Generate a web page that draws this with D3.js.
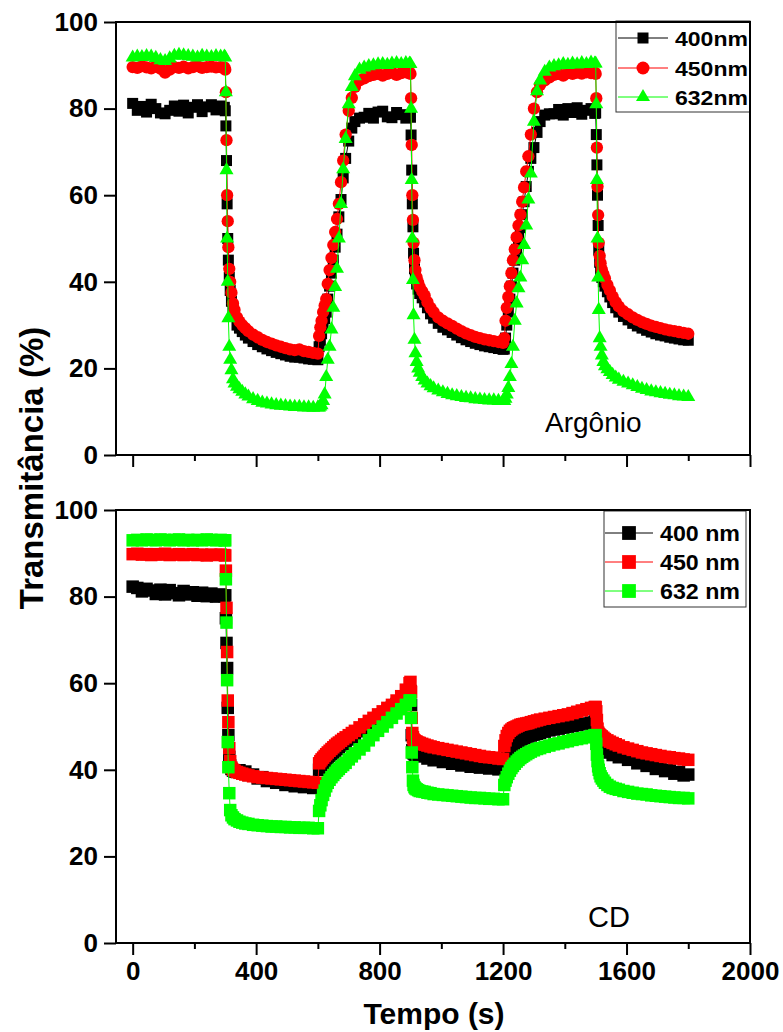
<!DOCTYPE html>
<html><head><meta charset="utf-8">
<script src="https://cdn.jsdelivr.net/npm/d3@7"></script>
<style>body{margin:0;background:#fff}</style>
</head><body><svg id="c" width="783" height="1032"></svg>
<script>
// time (s), shared by every series
const time = [
 0,15,30,45,60,75,90,105,120,135,150,165,180,195,210,225,240,255,270,285,297,
 300,302,304,306,308,310,313,316,320,325,330,338,
 346,355,365,375,390,405,420,435,450,465,480,495,510,525,540,555,570,585,600,
 604,608,612,617,622,627,632,638,644,650,656,662,668,675,682,690,700,710,720,735,750,
 765,780,795,810,825,840,855,870,885,897,
 900,902,904,906,908,910,913,916,920,925,930,938,
 946,955,965,975,990,1005,1020,1035,1050,1065,1080,1095,1110,1125,1140,1155,1170,1185,1200,
 1204,1208,1212,1217,1222,1227,1232,1238,1244,1250,1256,1262,1268,1275,1282,1290,1300,1310,1320,1335,1350,
 1365,1380,1395,1410,1425,1440,1455,1470,1485,1497,
 1500,1502,1504,1506,1508,1510,1513,1516,1520,1525,1530,1538,
 1546,1555,1565,1575,1590,1605,1620,1635,1650,1665,1680,1695,1710,1725,1740,1755,1770,1785,1800
];

// Top panel (Argônio)
const top400 = [
 81.2,79.6,80.5,79.2,81.0,80.0,79.0,78.8,79.6,80.6,79.4,80.8,79.0,80.3,80.9,79.3,80.4,80.9,79.7,80.6,80.3,
 79.5,76,68,58,50,45,41,38,35.5,33.5,32,30,
 29.3,28.5,27.7,27,26.2,25.5,25,24.5,24.1,23.7,23.4,23.1,22.8,22.6,22.6,22.4,22.2,22.1,22.0,
 25,26.5,28,30,31.5,33,36,39,42,45,48,51,55,59,64,68.5,72.5,75.5,77,77.8,78,
 78.9,77.8,79.2,79.4,78.1,77.9,79.1,78.6,77.8,78.4,
 78,73.9,65.8,58,52.7,46.6,43,41,39.5,38.3,37.3,36.3,
 35.3,34,32.6,31.6,30.4,29.5,28.9,28.3,27.7,27.1,26.6,26.2,25.8,25.5,25.2,25.0,24.8,24.6,24.4,
 24.5,27,30,33,36,39,42,45,47.5,50,52.5,55.5,58.5,62,65.5,68.5,71,74.5,77,78.5,78.8,
 78.8,79.8,78.5,80.0,79.1,80.2,78.7,79.6,80.0,78.9,
 79,74,67,60,53,47.3,44.5,42.5,41,40,39,37.7,
 36.5,35.2,34,33,32,31.2,30.4,29.8,29.3,28.8,28.4,28.0,27.7,27.5,27.2,27.0,26.8,26.6,26.5
];
const top450 = [
 89.6,89.4,89.8,89.5,89.3,89.7,89.2,88.3,89.0,89.6,89.4,89.7,89.3,89.6,89.8,89.4,89.6,89.7,89.5,89.6,89.5,
 89,83.8,72.7,60,54,48,43,40,37.5,35,33.5,31.8,
 30.8,30,29.3,28.6,27.8,27.2,26.6,26.1,25.7,25.3,25.0,24.7,24.4,24.2,24.4,24.0,23.8,23.6,23.4,
 27.5,29.5,31,33,34.5,36,39.5,42.7,45.5,48.5,51.5,54.5,58,63,68,74,79.5,82.5,85,86.5,87,
 87.5,87.8,88,87.6,88,88.3,87.8,88.2,88.4,88.3,
 88,82.4,71.6,60,54.3,49,45,42.7,41,39.8,38.8,37.8,
 36.8,35.3,34,33,31.8,31,30.4,29.8,29.2,28.6,28.1,27.7,27.3,27,26.7,26.5,26.3,26.1,25.9,
 27,31,34,36.5,39,42,45,47.5,50.3,53,55.5,58.5,61.8,65.5,69,74,80,83.8,85.5,86.5,87.2,
 87.8,88,87.6,88.2,88,88.3,88.1,88.4,88.2,88.3,
 88,82.4,71,62,55.4,49,46,44.3,42.8,41.8,40.8,39.3,
 38,36.6,35.3,34.3,33.2,32.5,31.8,31.2,30.7,30.3,29.9,29.6,29.3,29.0,28.8,28.6,28.4,28.2,28.0
];
const top632 = [
 91.8,92.0,91.9,92.1,92.0,91.7,91.2,91.0,91.6,92.2,92.4,92.3,92.1,92.0,91.8,92.2,92.0,91.9,92.1,92.0,92.0,
 91.8,83.8,65.8,50,40,31.6,25,22,19.6,17.5,16.5,15.8,
 15.2,14.6,14.0,13.5,12.9,12.5,12.1,11.9,11.7,11.5,11.4,11.3,11.2,11.1,11.1,11.0,11.0,10.9,11.0,
 11,11.2,11.5,12.5,14,18,22,25,29,34,38.8,43,50,58,66,73,81,85,87.5,89,89.5,
 89.8,90,90.2,90.3,90.1,90.4,90.5,90.3,90.5,90.4,
 90.3,80,63.5,50,40.4,32.3,26.6,23.5,21.5,20,19,18,
 17.2,16.5,15.9,15.4,14.9,14.5,14.1,13.8,13.6,13.4,13.2,13.1,12.9,12.8,12.7,12.6,12.6,12.5,12.5,
 12.5,13,14,15.5,18,21,25,31,35,38.5,41,45,48.5,53,59,65,77,84,86.5,88.5,89.5,
 89.8,90,90.3,90.1,90.4,90.2,90.5,90.3,90.6,90.4,
 90.4,81,63.5,50,41,33.5,27,25,23,21.5,20.5,19.8,
 19.2,18.5,17.9,17.4,16.9,16.5,16.1,15.7,15.3,15.0,14.7,14.5,14.3,14.1,13.9,13.8,13.6,13.5,13.4
];

// Bottom panel (CD)
const bot400 = [
 82.3,82.0,81.2,81.8,81.4,80.6,81.6,80.5,81.5,80.8,80.3,81.3,80.5,81.0,80.2,80.9,80.1,80.7,80.0,80.5,80.1,
 80.3,75,69.3,63.5,54.3,48,43,41,40.2,39.8,39.6,39.5,
 39.9,39.2,39.6,38.8,38.9,38.0,38.3,37.4,37.8,37.0,37.3,36.5,36.9,36.2,36.6,36.0,36.4,35.8,36.1,
 40.0,40.6,41.1,41.6,42,42.4,42.8,43.2,43.6,44,44.4,44.8,45.2,45.6,46,46.4,47,47.5,48.1,48.9,49.6,
 50.4,51.2,52,52.8,53.6,54.4,55.2,56,57,58,
 58.2,55,48,44.5,44,43.8,43.6,43.5,43.4,43.3,43.2,43.1,
 43.3,42.6,43.0,42.2,42.6,41.8,42.2,41.4,41.8,41.0,41.5,40.7,41.2,40.5,41.0,40.3,40.8,40.1,40.5,
 41,42.2,43.2,44,44.7,45.2,45.6,46,46.3,46.6,46.9,47.1,47.3,47.5,47.7,47.9,48.1,48.3,48.5,48.8,49.1,
 49.3,49.5,49.7,49.9,50.1,50.3,50.5,50.7,50.9,51.1,
 51.2,50,48,46.5,45.5,45.2,45,44.8,44.6,44.4,44.2,44.0,
 44.1,43.4,43.7,42.9,43.2,42.3,42.5,41.5,41.8,40.9,41.1,40.2,40.5,39.7,40.0,39.1,39.5,38.7,38.9
];
const bot450 = [
 89.8,89.9,89.7,89.8,89.6,89.8,89.7,89.9,89.6,89.7,89.8,89.6,89.7,89.8,89.6,89.7,89.5,89.7,89.6,89.7,89.6,
 89.5,86,77.4,67.2,56,51,45,42,40.5,40,39.8,39.5,
 39.3,39.1,38.9,38.7,38.5,38.3,38.2,38.1,38.0,37.9,37.8,37.7,37.6,37.5,37.4,37.3,37.2,37.1,37.0,
 41.5,42,42.4,42.8,43.2,43.6,44,44.4,44.8,45.2,45.6,46,46.3,46.7,47.1,47.5,48,48.5,49,49.8,50.5,
 51.3,52,52.8,53.5,54.3,55,56,57,58.5,60,
 60.3,58,52,48.5,47.5,47,46.8,46.6,46.5,46.3,46.2,46.0,
 45.8,45.6,45.4,45.2,45.0,44.8,44.6,44.4,44.2,44.0,43.8,43.6,43.4,43.2,43.0,42.9,42.8,42.6,42.5,
 45.5,46.8,47.8,48.5,49,49.3,49.6,49.8,50.0,50.2,50.4,50.5,50.6,50.7,50.8,51.0,51.2,51.4,51.6,51.8,52.0,
 52.2,52.4,52.6,52.8,53.1,53.4,53.7,54.0,54.3,54.5,
 54.5,53.5,51.5,49.5,48.6,48.3,48.1,47.9,47.7,47.4,47.1,46.8,
 46.5,46.2,45.9,45.6,45.2,44.9,44.6,44.3,44.0,43.8,43.6,43.4,43.2,43.0,42.9,42.7,42.6,42.4,42.3
];
const bot632 = [
 93.0,93.1,93.0,93.2,93.1,93.0,93.2,93.1,93.0,93.1,93.2,93.0,93.1,93.0,93.1,93.0,93.2,93.1,93.0,93.1,93.0,
 93,84,74,60.7,46.4,40.6,34.6,30.7,29.5,29,28.6,28.3,
 28.0,27.8,27.6,27.5,27.3,27.2,27.1,27.0,26.9,26.9,26.8,26.8,26.7,26.7,26.6,26.6,26.6,26.5,26.5,
 30.5,31.8,33,34.2,35.2,36.2,37,37.7,38.3,38.8,39.3,39.8,40.2,40.7,41.1,41.6,42.4,43.1,43.8,44.7,45.6,
 46.8,48,49,50,51,52,53,54,55,56,
 56,52,44,40.6,37.5,36.5,36,35.7,35.5,35.3,35.1,35,
 34.9,34.7,34.6,34.4,34.3,34.2,34.1,34.0,33.9,33.8,33.7,33.6,33.5,33.5,33.4,33.3,33.3,33.2,33.2,
 36.5,37.5,38.3,39.1,39.8,40.4,40.9,41.4,41.9,42.3,42.7,43.0,43.3,43.6,43.9,44.2,44.5,44.8,45.0,45.3,45.6,
 45.9,46.1,46.4,46.6,46.9,47.1,47.3,47.5,47.8,48.0,
 48,46,43.5,42,40.8,40,39.2,38.5,38,37.5,37,36.5,
 36.1,35.8,35.6,35.4,35.1,34.9,34.7,34.5,34.4,34.3,34.1,34.0,33.9,33.8,33.7,33.6,33.5,33.5,33.4
];

const xTicks = [0, 400, 800, 1200, 1600, 2000];
const xMinor = [200, 600, 1000, 1400, 1800];
const yTicks = [0, 20, 40, 60, 80, 100];
const yMinor = [10, 30, 50, 70, 90];
const legendTop = ["400nm", "450nm", "632nm"];
const legendBot = ["400 nm", "450 nm", "632 nm"];
const colors = ["#000000", "#ff0000", "#00ff00"];

const FONT = "Arial, 'Liberation Sans', Helvetica, sans-serif";
const svg = d3.select("#c");
const x = d3.scaleLinear().domain([-54, 2000]).range([116, 750]);

const panels = [
  {
    y: d3.scaleLinear().domain([0, 100]).range([455, 22]),
    series: [top400, top450, top632],
    shapes: [d3.symbolSquare, d3.symbolCircle, d3.symbolTriangle],
    sizes: [121, 119, 85],
    legend: legendTop,
    leg: {x: 616, y: 21, w: 134, h: 91, rows: [38, 68, 97], l0: 618, l1: 668, mx: 643, tx: 675, tl: 73, fs: 21, msizes: [121, 133, 85]},
    label: {text: "Argônio", x: 545, y: 432, fs: 28},
    xlabels: false
  },
  {
    y: d3.scaleLinear().domain([0, 100]).range([943, 510]),
    series: [bot400, bot450, bot632],
    shapes: [d3.symbolSquare, d3.symbolSquare, d3.symbolSquare],
    sizes: [156, 156, 156],
    legend: legendBot,
    leg: {x: 604, y: 511, w: 142, h: 96, rows: [533, 562, 591], l0: 605, l1: 653, mx: 629, tx: 660, tl: 80, fs: 22, msizes: [190, 190, 190]},
    label: {text: "CD", x: 588, y: 927, fs: 29},
    xlabels: true
  }
];

panels.forEach(p => {
  const y = p.y;
  const [y0, y1] = y.range();
  const g = svg.append("g");

  // data
  p.series.forEach((vals, i) => {
    const pts = time.map((t, k) => [t, vals[k]]);
    g.append("path")
      .attr("d", d3.line().x(d => x(d[0])).y(d => y(d[1]))(pts))
      .attr("fill", "none").attr("stroke", colors[i]).attr("stroke-width", 1);
    g.append("g").selectAll("path").data(pts).join("path")
      .attr("transform", d => `translate(${x(d[0])},${y(d[1])})`)
      .attr("d", d3.symbol().type(p.shapes[i]).size(p.sizes[i]))
      .attr("fill", colors[i]);
  });

  // legend
  const L = p.leg;
  const lg = svg.append("g");
  lg.append("rect").attr("x", L.x).attr("y", L.y).attr("width", L.w).attr("height", L.h)
    .attr("fill", "#fff").attr("stroke", "#333").attr("stroke-width", 1);
  p.legend.forEach((name, i) => {
    const ry = L.rows[i];
    lg.append("line").attr("x1", L.l0).attr("x2", L.l1).attr("y1", ry).attr("y2", ry)
      .attr("stroke", colors[i]).attr("stroke-width", 1);
    lg.append("path").attr("transform", `translate(${L.mx},${ry})`)
      .attr("d", d3.symbol().type(p.shapes[i]).size(L.msizes[i])).attr("fill", colors[i]);
    lg.append("text").attr("x", L.tx).attr("y", ry + L.fs * 0.36)
      .attr("font-family", FONT).attr("font-weight", "bold").attr("font-size", L.fs)
      .attr("textLength", L.tl).attr("lengthAdjust", "spacingAndGlyphs")
      .text(name);
  });

  // frame
  svg.append("rect").attr("x", 116).attr("y", y1).attr("width", 634).attr("height", y0 - y1)
    .attr("fill", "none").attr("stroke", "#000").attr("stroke-width", 2);

  // y axis
  const ya = svg.append("g").attr("transform", "translate(116,0)");
  ya.call(d3.axisLeft(y).tickValues(yMinor).tickSize(6).tickFormat(""));
  ya.call(d3.axisLeft(y).tickValues(yTicks).tickSize(12).tickPadding(6).tickFormat(d3.format("d")));
  ya.selectAll(".domain").remove();
  ya.selectAll("line").attr("stroke", "#000").attr("stroke-width", 2);
  ya.selectAll("text").attr("font-family", FONT).attr("font-weight", "bold").attr("font-size", 26).attr("fill", "#000");

  // x axis
  const xa = svg.append("g").attr("transform", `translate(0,${y0})`);
  xa.call(d3.axisBottom(x).tickValues(xMinor).tickSize(6).tickFormat(""));
  const xb = xa.append("g");
  xb.call(d3.axisBottom(x).tickValues(xTicks).tickSize(12).tickPadding(7)
    .tickFormat(p.xlabels ? d3.format("d") : ""));
  xa.selectAll(".domain").remove();
  xa.selectAll("line").attr("stroke", "#000").attr("stroke-width", 2);
  xa.selectAll("text").attr("font-family", FONT).attr("font-weight", "bold").attr("font-size", 26).attr("fill", "#000");

  // panel label
  svg.append("text").attr("x", p.label.x).attr("y", p.label.y)
    .attr("font-family", FONT).attr("font-size", p.label.fs).attr("fill", "#000")
    .text(p.label.text);
});

// axis titles
svg.append("text").attr("transform", "translate(43,468) rotate(-90)")
  .attr("text-anchor", "middle").attr("font-family", FONT).attr("font-weight", "bold")
  .attr("font-size", 33).text("Transmitância (%)");
svg.append("text").attr("x", 434).attr("y", 1024)
  .attr("text-anchor", "middle").attr("font-family", FONT).attr("font-weight", "bold")
  .attr("font-size", 30).text("Tempo (s)");
</script>
</body></html>
